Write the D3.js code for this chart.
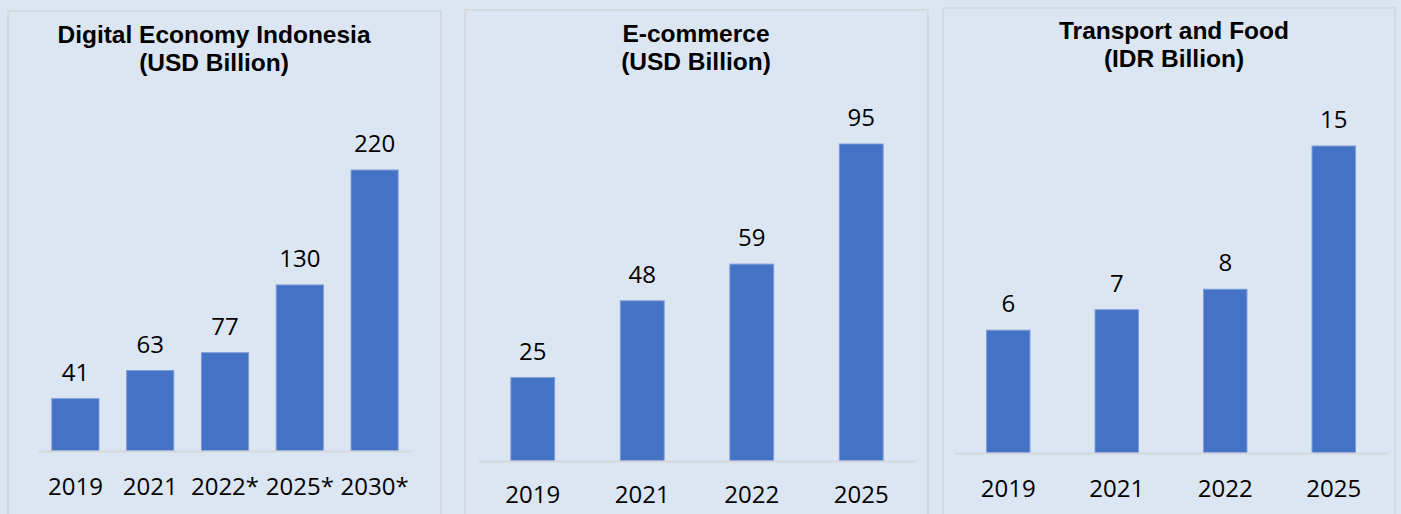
<!DOCTYPE html>
<html>
<head>
<meta charset="utf-8">
<script src="https://cdn.jsdelivr.net/npm/d3@7"></script>
<style>
  html, body { margin: 0; padding: 0; background: #dce6f2; }
  svg { display: block; }
  .title { font-family: "Liberation Sans", Arial, sans-serif; font-weight: 700; font-size: 24.5px; fill: #000; }
  .value { font-family: "Open Sans", sans-serif; font-size: 24px; fill: #000; }
  .axis text { font-family: "Open Sans", sans-serif; font-size: 24px; fill: #000; }
</style>
</head>
<body>
<svg id="chart" width="1401" height="514"></svg>
<script>
// Digital economy
const digitalYears = ["2019", "2021", "2022*", "2025*", "2030*"];
const digitalValues = [41, 63, 77, 130, 220];

// E-commerce
const ecomYears = ["2019", "2021", "2022", "2025"];
const ecomValues = [25, 48, 59, 95];

// Transport and food
const transportYears = ["2019", "2021", "2022", "2025"];
const transportValues = [6, 7, 8, 15];

const titles = [
  ["Digital Economy Indonesia", "(USD Billion)"],
  ["E-commerce", "(USD Billion)"],
  ["Transport and Food", "(IDR Billion)"]
];

// Panel layout: frame box, axis extent, baseline and height reached by the tallest bar
const panels = [
  { cats: digitalYears, vals: digitalValues, title: titles[0],
    frame: [8, 11, 441], axis: [38, 412], base: 451, top: 170, pad: 0.37,
    titleX: 214, titleY: [43, 71], tickY: 44 },
  { cats: ecomYears, vals: ecomValues, title: titles[1],
    frame: [465, 10, 928], axis: [478, 916], base: 461, top: 144, pad: 0.6,
    titleX: 696, titleY: [42, 70], tickY: 42 },
  { cats: transportYears, vals: transportValues, title: titles[2],
    frame: [943, 8, 1395], axis: [954, 1388], base: 453, top: 146, pad: 0.6,
    titleX: 1174, titleY: [39, 67], tickY: 44 }
];

const svg = d3.select("#chart");

svg.append("rect").attr("x", 0).attr("y", 0).attr("width", 1401).attr("height", 514)
  .attr("fill", "#dce6f2");

panels.forEach(p => {
  const g = svg.append("g");

  // panel frame
  g.append("rect")
    .attr("x", p.frame[0]).attr("y", p.frame[1])
    .attr("width", p.frame[2] - p.frame[0]).attr("height", 540)
    .attr("fill", "#dce6f2").attr("stroke", "#d6d9de").attr("stroke-width", 2);

  const x = d3.scaleBand().domain(p.cats).range(p.axis)
    .paddingInner(p.pad).paddingOuter(p.pad / 2);
  const y = d3.scaleLinear().domain([0, d3.max(p.vals)]).range([p.base, p.top]);

  // two-line title, one text element per line
  p.title.forEach((line, i) => {
    g.append("text").attr("class", "title").attr("text-anchor", "middle")
      .attr("x", p.titleX).attr("y", p.titleY[i]).text(line);
  });

  // bars
  const data = p.cats.map((c, i) => ({ c, v: p.vals[i] }));
  g.selectAll("rect.bar").data(data).join("rect")
    .attr("class", "bar")
    .attr("x", d => x(d.c)).attr("width", x.bandwidth())
    .attr("y", d => y(d.v)).attr("height", d => y(0) - y(d.v))
    .attr("fill", "#4472c4").attr("stroke", "#7d9cd8").attr("stroke-width", 1);

  // value labels
  g.selectAll("text.value").data(data).join("text")
    .attr("class", "value").attr("text-anchor", "middle")
    .attr("x", d => x(d.c) + x.bandwidth() / 2)
    .attr("y", d => y(d.v) - 18)
    .text(d => d.v);

  // category axis
  const ax = g.append("g").attr("class", "axis")
    .attr("transform", `translate(0,${p.base})`)
    .call(d3.axisBottom(x).tickSize(0).tickSizeOuter(0).tickPadding(0));
  ax.select(".domain").attr("stroke", "#d4d7dc").attr("stroke-width", 2);
  ax.selectAll(".tick text").attr("dy", null).attr("y", p.tickY);
});
</script>
</body>
</html>
